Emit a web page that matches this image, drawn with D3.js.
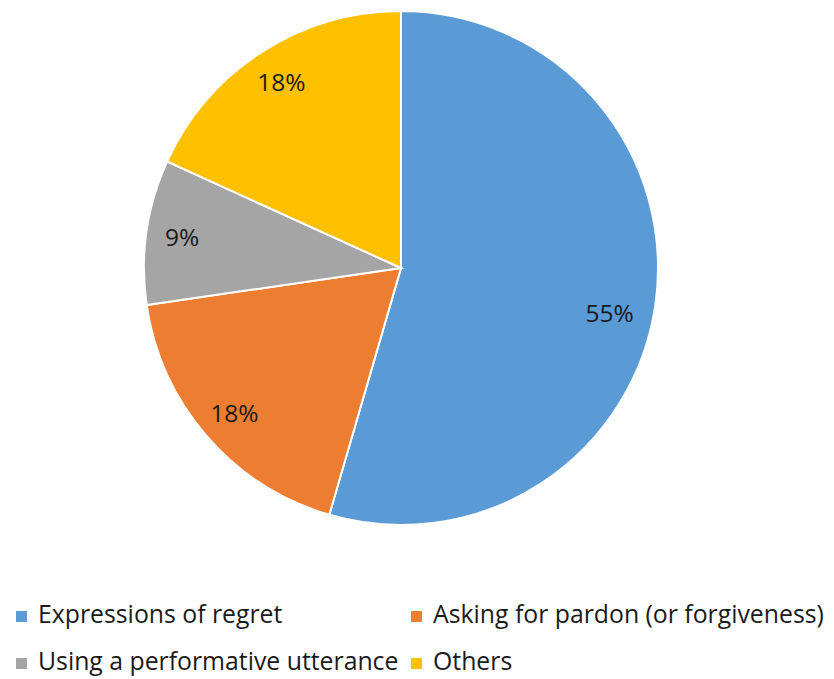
<!DOCTYPE html>
<html>
<head>
<meta charset="utf-8">
<script src="https://cdn.jsdelivr.net/npm/d3@7"></script>
<style>
  body { margin: 0; background: #fff; }
  svg { display: block; }
</style>
</head>
<body>
<svg id="chart" width="834" height="679"></svg>
<script>
// categories + values (shares; labels rounded)
const categories = ["Expressions of regret", "Asking for pardon (or forgiveness)", "Using a performative utterance", "Others"];
const values = [54.5, 18.2, 9.1, 18.2];
const colors = ["#5B9BD5", "#ED7D31", "#A5A5A5", "#FFC000"];

const data = categories.map((c, i) => ({ name: c, value: values[i], color: colors[i] }));
const total = d3.sum(values);

const svg = d3.select("#chart");
const cx = 401, cy = 268;
const radius = 257;

const pie = d3.pie()
    .sort(null)
    .value(d => d.value);

const arc = d3.arc()
    .innerRadius(0)
    .outerRadius(radius);

const g = svg.append("g")
    .attr("transform", `translate(${cx},${cy})`);

const slices = pie(data);

g.selectAll("path")
    .data(slices)
    .join("path")
    .attr("d", arc)
    .attr("fill", d => d.data.color)
    .attr("stroke", "#fff")
    .attr("stroke-width", 2);

// excel "best fit" nudges the big slice label a bit clockwise
g.selectAll("text")
    .data(slices)
    .join("text")
    .attr("transform", d => {
        let a = (d.startAngle + d.endAngle) / 2;
        if (d.index === 0) a += 0.07;
        const r = radius * (d.index === 0 ? 0.83 : 0.86);
        return `translate(${r * Math.sin(a)},${-r * Math.cos(a)})`;
    })
    .attr("text-anchor", "middle")
    .attr("dy", "0.36em")
    .attr("font-family", "'Open Sans', sans-serif")
    .attr("font-size", 24.5)
    .attr("fill", "#1a1a1a")
    .text(d => Math.round(d.data.value / total * 100) + "%");

// legend, 2 columns x 2 rows (y = text baseline)
const legX = d3.scaleOrdinal().domain([0, 1]).range([16, 411]);
const legY = d3.scaleOrdinal().domain([0, 1]).range([623, 670]);

const leg = svg.append("g")
    .selectAll("g")
    .data(data)
    .join("g")
    .attr("transform", (d, i) => `translate(${legX(i % 2)},${legY(Math.floor(i / 2))})`);

leg.append("rect")
    .attr("x", 0)
    .attr("y", -12)
    .attr("width", 11)
    .attr("height", 11)
    .attr("fill", d => d.color);

leg.append("text")
    .attr("x", 22)
    .attr("y", 0)
    .attr("font-family", "'Open Sans', sans-serif")
    .attr("font-size", 24.8)
    .attr("fill", "#1a1a1a")
    .text(d => d.name);
</script>
</body>
</html>
